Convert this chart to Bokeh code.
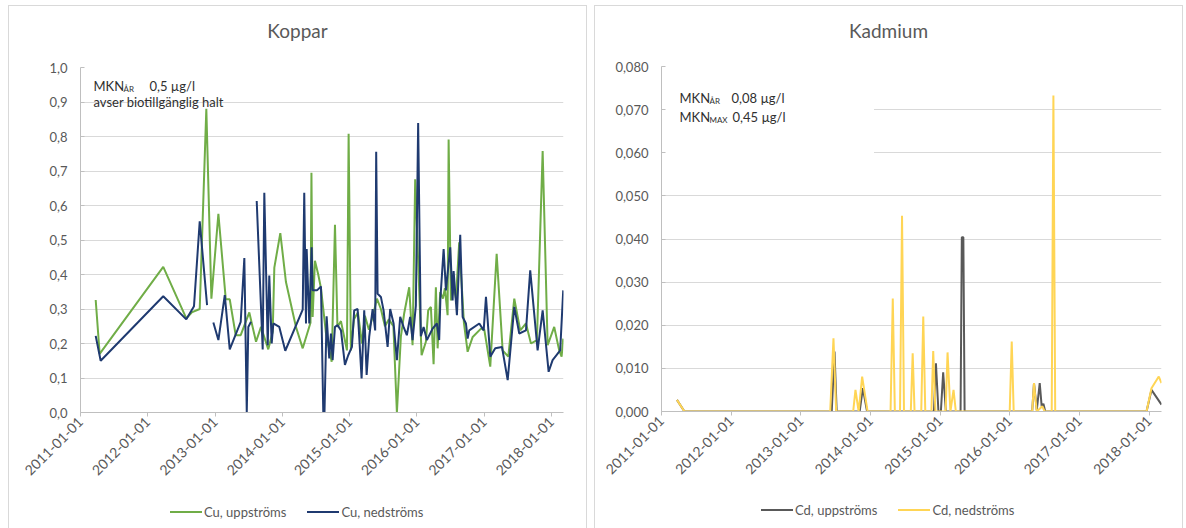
import pandas as pd
from bokeh.plotting import figure
from bokeh.layouts import row, column
from bokeh.models import (Range1d, FixedTicker, DatetimeTickFormatter, CustomJSTickFormatter,
                          Label, BoxAnnotation, Div)
from bokeh.embed import file_html
from bokeh.resources import INLINE

FONT = "Lato"
GREY_TEXT = "#595959"
DARK_TEXT = "#303030"

# ---------------- Koppar (Cu), µg/l ; sampling times as decimal years ----------------
cu_up_time = [
    2011.226, 2011.285, 2012.230, 2012.572, 2012.652, 2012.771, 2012.869, 2012.944, 2013.048, 2013.158,
    2013.217, 2013.306, 2013.380, 2013.508, 2013.608, 2013.682, 2013.790, 2013.856, 2013.880, 2013.969,
    2014.053, 2014.202, 2014.302, 2014.418, 2014.432, 2014.450, 2014.484, 2014.533, 2014.574, 2014.648,
    2014.733, 2014.782, 2014.819, 2014.871, 2014.960, 2014.985, 2015.019, 2015.064, 2015.123, 2015.183,
    2015.227, 2015.287, 2015.346, 2015.406, 2015.465, 2015.525, 2015.584, 2015.651, 2015.703, 2015.762,
    2015.811, 2015.886, 2015.936, 2015.975, 2016.070, 2016.134, 2016.168, 2016.208, 2016.248, 2016.282,
    2016.308, 2016.346, 2016.386, 2016.416, 2016.456, 2016.471, 2016.505, 2016.550, 2016.580, 2016.628,
    2016.698, 2016.753, 2016.828, 2016.951, 2017.000, 2017.089, 2017.184, 2017.273, 2017.357, 2017.446,
    2017.535, 2017.620, 2017.694, 2017.783, 2017.868, 2017.942, 2018.040, 2018.114, 2018.150, 2018.174,
]
cu_up_value = [
    0.326, 0.170, 0.422, 0.273, 0.290, 0.300, 0.880, 0.330, 0.576, 0.328,
    0.328, 0.224, 0.224, 0.290, 0.205, 0.248, 0.183, 0.234, 0.420, 0.520,
    0.378, 0.248, 0.186, 0.260, 0.695, 0.277, 0.440, 0.400, 0.360, 0.230,
    0.147, 0.544, 0.248, 0.265, 0.180, 0.808, 0.180, 0.270, 0.290, 0.200,
    0.280, 0.240, 0.280, 0.330, 0.300, 0.250, 0.270, 0.250, 0.000, 0.220,
    0.287, 0.363, 0.195, 0.676, 0.166, 0.205, 0.296, 0.306, 0.140, 0.363,
    0.186, 0.349, 0.330, 0.360, 0.282, 0.791, 0.325, 0.360, 0.330, 0.493,
    0.260, 0.176, 0.219, 0.243, 0.240, 0.133, 0.460, 0.180, 0.162, 0.330,
    0.238, 0.258, 0.200, 0.210, 0.758, 0.195, 0.248, 0.180, 0.162, 0.214,
]

NA = float("nan")  # missing sample -> gap in the line
cu_down_time = [
    2011.226, 2011.300, 2012.230, 2012.572, 2012.686, 2012.771, 2012.880, 2012.930, 2012.973, 2013.048,
    2013.143, 2013.217, 2013.380, 2013.434, 2013.470, 2013.493, 2013.533, 2013.580, 2013.618, 2013.707,
    2013.731, 2013.782, 2013.805, 2013.841, 2013.865, 2013.954, 2014.043, 2014.302, 2014.325, 2014.351,
    2014.361, 2014.400, 2014.435, 2014.450, 2014.514, 2014.574, 2014.608, 2014.626, 2014.658, 2014.697,
    2014.722, 2014.747, 2014.782, 2014.822, 2014.871, 2014.930, 2014.979, 2015.034, 2015.068, 2015.119,
    2015.178, 2015.217, 2015.253, 2015.291, 2015.342, 2015.380, 2015.395, 2015.416, 2015.465, 2015.505,
    2015.565, 2015.603, 2015.654, 2015.703, 2015.752, 2015.802, 2015.851, 2015.900, 2015.936, 2015.985,
    2016.019, 2016.059, 2016.100, 2016.149, 2016.233, 2016.297, 2016.331, 2016.349, 2016.397, 2016.431,
    2016.495, 2016.530, 2016.545, 2016.594, 2016.643, 2016.679, 2016.728, 2016.753, 2016.777, 2016.926,
    2016.991, 2017.025, 2017.089, 2017.163, 2017.263, 2017.348, 2017.446, 2017.520, 2017.620, 2017.683,
    2017.793, 2017.868, 2017.957, 2018.016, 2018.129, 2018.174,
]
cu_down_value = [
    0.222, 0.150, 0.337, 0.270, 0.308, 0.554, 0.311, NA, 0.261, 0.210,
    0.340, 0.183, 0.263, 0.448, 0.000, 0.248, 0.263, NA, 0.613, 0.183,
    0.637, 0.195, 0.397, 0.200, 0.258, 0.248, 0.179, 0.298, 0.637, 0.258,
    0.474, 0.258, 0.479, 0.354, 0.354, 0.365, 0.000, 0.000, 0.279, 0.157,
    0.229, 0.152, 0.248, 0.253, 0.238, 0.138, 0.166, 0.190, 0.296, 0.300,
    0.099, 0.296, 0.109, 0.219, 0.300, 0.238, 0.756, 0.344, 0.335, 0.296,
    0.190, 0.300, 0.258, 0.152, 0.277, 0.248, 0.224, 0.277, 0.210, 0.310,
    0.839, 0.221, 0.248, 0.210, 0.243, 0.258, 0.210, 0.330, 0.474, 0.354,
    0.479, 0.325, 0.410, 0.282, 0.515, 0.277, 0.258, 0.214, 0.238, 0.258,
    0.238, 0.335, 0.162, 0.186, 0.190, 0.094, 0.306, 0.229, 0.238, 0.412,
    0.180, 0.296, 0.118, 0.152, 0.180, 0.354,
]

# ---------------- Kadmium (Cd), µg/l ----------------
cd_up_time = [
    2011.222, 2011.330, 2013.443, 2013.483, 2013.514, 2013.844, 2013.890, 2013.951, 2014.911, 2014.940,
    2014.976, 2015.011, 2015.044, 2015.083, 2015.294, 2015.312, 2015.334, 2015.352, 2016.322, 2016.348,
    2016.388, 2016.430, 2016.458, 2016.483, 2016.509, 2017.963, 2018.034, 2018.178,
]
cd_up_value = [
    0.0027, 0.0, 0.0, 0.0139, 0.0, 0.0, 0.0054, 0.0, 0.0, 0.0112,
    0.0, 0.0, 0.0091, 0.0, 0.0, 0.0404, 0.0404, 0.0, 0.0, 0.0066,
    0.0003, 0.0066, 0.0012, 0.0018, 0.0, 0.0, 0.0050, 0.0016,
]
cd_down_time = [
    2011.222, 2011.330, 2013.421, 2013.468, 2013.507, 2013.751, 2013.784, 2013.830, 2013.880, 2013.958,
    2014.288, 2014.320, 2014.350, 2014.424, 2014.453, 2014.481, 2014.579, 2014.606, 2014.633, 2014.729,
    2014.758, 2014.787, 2014.875, 2014.901, 2014.933, 2015.079, 2015.107, 2015.148, 2015.193, 2015.226,
    2016.000, 2016.029, 2016.057, 2016.322, 2016.348, 2016.387, 2016.468, 2016.501, 2016.602, 2016.626,
    2016.652, 2017.963, 2018.034, 2018.139, 2018.178,
]
cd_down_value = [
    0.0027, 0.0, 0.0, 0.0170, 0.0, 0.0, 0.0050, 0.0, 0.0081, 0.0,
    0.0, 0.0262, 0.0, 0.0, 0.0454, 0.0, 0.0, 0.0135, 0.0, 0.0,
    0.0220, 0.0, 0.0, 0.0140, 0.0, 0.0, 0.0137, 0.0, 0.0050, 0.0,
    0.0, 0.0162, 0.0, 0.0, 0.0066, 0.0, 0.0012, 0.0, 0.0, 0.0733,
    0.0, 0.0, 0.0054, 0.0081, 0.0066,
]

year_ticks = ["2011-01-01", "2012-01-01", "2013-01-01", "2014-01-01",
              "2015-01-01", "2016-01-01", "2017-01-01", "2018-01-01"]
x_start, x_end = "2011-01-01", "2018-03-07"
cu_y_ticks = [0.0, 0.1, 0.2, 0.3, 0.4, 0.5, 0.6, 0.7, 0.8, 0.9, 1.0]
cd_y_ticks = [0.0, 0.01, 0.02, 0.03, 0.04, 0.05, 0.06, 0.07, 0.08]


def ms(ts):
    return pd.Timestamp(ts).value / 1e6


def year_to_ms(t):
    y = int(t)
    a = pd.Timestamp(year=y, month=1, day=1)
    b = pd.Timestamp(year=y + 1, month=1, day=1)
    return (a + (t - y) * (b - a)).value / 1e6


def make_figure(y_ticks, decimals, borders, size):
    left, right, top, bottom = borders
    p = figure(width=size[0], height=size[1], x_axis_type="datetime", title=None,
               x_range=Range1d(ms(x_start), ms(x_end)),
               y_range=Range1d(y_ticks[0], y_ticks[-1]),
               output_backend="svg", toolbar_location=None,
               min_border_left=left, min_border_right=right,
               min_border_top=top, min_border_bottom=bottom,
               background_fill_color="white", border_fill_color="white",
               outline_line_color=None, margin=0)

    p.xgrid.grid_line_color = None
    p.ygrid.grid_line_color = "#d9d9d9"
    p.ygrid.grid_line_width = 1

    xa = p.xaxis[0]
    xa.ticker = FixedTicker(ticks=[ms(t) for t in year_ticks], minor_ticks=[])
    xa.formatter = DatetimeTickFormatter(years="%Y-%m-%d", months="%Y-%m-%d", days="%Y-%m-%d")
    xa.major_label_orientation = 0.785398
    xa.axis_line_color = "#bfbfbf"
    xa.major_tick_line_color = "#bfbfbf"
    xa.major_tick_out = 4
    xa.major_tick_in = 0
    xa.minor_tick_line_color = None
    xa.major_label_text_font = FONT
    xa.major_label_text_font_size = "14px"
    xa.major_label_text_color = GREY_TEXT
    xa.major_label_standoff = 3

    ya = p.yaxis[0]
    ya.ticker = FixedTicker(ticks=y_ticks, num_minor_ticks=5)
    ya.formatter = CustomJSTickFormatter(
        code="return tick.toFixed(%d).replace('.', ',');" % decimals)
    ya.axis_line_color = "#bfbfbf"
    ya.major_tick_line_color = "#bfbfbf"
    ya.major_tick_out = 0
    ya.major_tick_in = 4
    ya.minor_tick_line_color = "#bfbfbf"
    ya.minor_tick_in = 3
    ya.minor_tick_out = 0
    ya.major_label_text_font = FONT
    ya.major_label_text_font_size = "13px"
    ya.major_label_text_color = GREY_TEXT
    ya.major_label_standoff = 13
    return p


def add_text(p, text, x, y, size, color=DARK_TEXT):
    p.add_layout(Label(x=x, y=y, x_units="screen", y_units="screen", text=text,
                       text_font=FONT, text_font_size=size, text_color=color,
                       text_align="left", text_baseline="alphabetic"))


def title_div(text, width, height, pad_top):
    html = ('<div style="width:%dpx;text-align:center;padding-top:%dpx;font-family:Lato;'
            'font-size:19px;line-height:22px;color:%s">%s</div>' % (width, pad_top, GREY_TEXT, text))
    return Div(text=html, width=width, height=height, margin=0)


def legend_div(entries, width, height, pad_left, pad_top):
    parts = []
    for i, (label, color) in enumerate(entries):
        gap = 0 if i == 0 else 21
        parts.append('<span style="display:inline-block;width:32px;height:0;border-top:2px solid %s;'
                     'vertical-align:middle;margin-left:%dpx"></span>'
                     '<span style="margin-left:2px;vertical-align:middle">%s</span>' % (color, gap, label))
    html = ('<div style="width:%dpx;padding-left:%dpx;padding-top:%dpx;font-family:Lato;font-size:13px;'
            'line-height:16px;color:%s;white-space:nowrap">%s</div>'
            % (width - pad_left, pad_left, pad_top, GREY_TEXT, "".join(parts)))
    return Div(text=html, width=width, height=height, margin=0)


PANEL_STYLE = {"border-top": "1px solid #d9d9d9", "border-left": "1px solid #d9d9d9",
               "border-right": "1px solid #d9d9d9", "background-color": "white"}

# ---------------- Koppar panel ----------------
p1 = make_figure(cu_y_ticks, 1, (71, 23, 9, 75), (577, 429))
p1.line([year_to_ms(t) for t in cu_up_time], cu_up_value, line_color="#70ad47", line_width=2)
p1.line([year_to_ms(t) for t in cu_down_time], cu_down_value, line_color="#1f3a70", line_width=2)
add_text(p1, "MKN", 13, 327, "13px")
add_text(p1, "ÅR", 43, 324, "8px")
add_text(p1, "0,5 µg/l", 69, 327, "13px")
add_text(p1, "avser biotillgänglig halt", 13, 311, "13px")
panel1 = column(
    title_div("Koppar", 577, 52, 14),
    p1,
    legend_div([("Cu, uppströms", "#70ad47"), ("Cu, nedströms", "#1f3a70")], 577, 41, 161, 15),
    margin=(5, 0, 0, 8), spacing=0, styles=PANEL_STYLE)

# ---------------- Kadmium panel ----------------
p2 = make_figure(cd_y_ticks, 3, (66, 21, 8, 76), (587, 429))
# white text box behind the limit-value note
p2.add_layout(BoxAnnotation(left=year_to_ms(2011.02), right=year_to_ms(2014.05),
                            bottom=0.0565, top=0.0775, fill_color="white", fill_alpha=1,
                            line_alpha=0, level="underlay"))
p2.line([year_to_ms(t) for t in cd_up_time], cd_up_value, line_color="#595959", line_width=2)
p2.line([year_to_ms(t) for t in cd_down_time], cd_down_value, line_color="#ffd555", line_width=2)
add_text(p2, "MKN", 18, 314, "13px")
add_text(p2, "ÅR", 48, 311, "8px")
add_text(p2, "0,08 µg/l", 70, 314, "13px")
add_text(p2, "MKN", 18, 295, "13px")
add_text(p2, "MAX", 48, 292, "8px")
add_text(p2, "0,45 µg/l", 71, 295, "13px")
panel2 = column(
    title_div("Kadmium", 587, 52, 14),
    p2,
    legend_div([("Cd, uppströms", "#595959"), ("Cd, nedströms", "#ffd555")], 587, 41, 166, 13),
    margin=(5, 0, 0, 7), spacing=0, styles=PANEL_STYLE)

layout = row(panel1, panel2, spacing=0)
open("out.html", "w").write(file_html(layout, INLINE))
